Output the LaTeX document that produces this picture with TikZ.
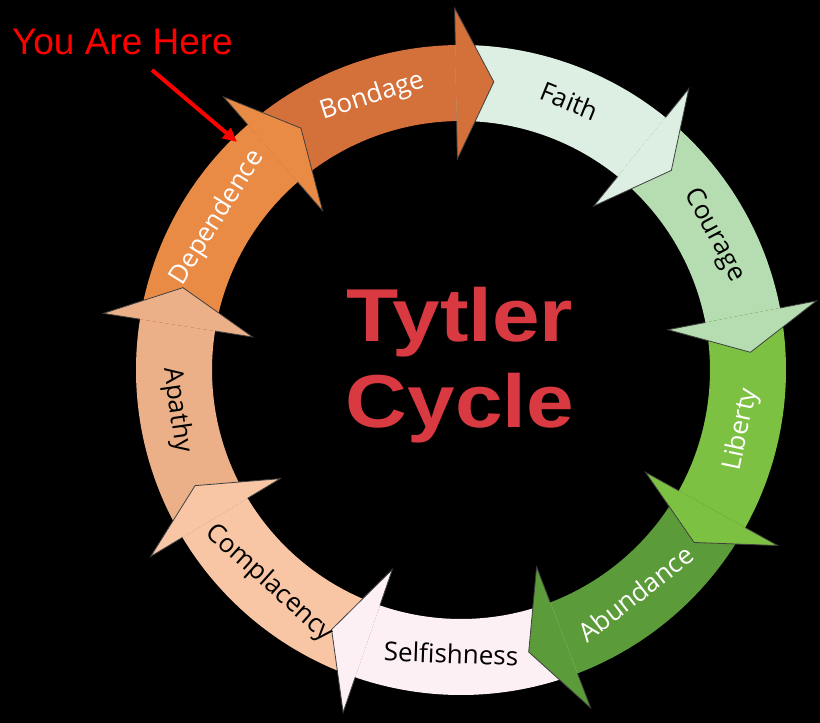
\documentclass[tikz,border=0pt]{standalone}
\usepackage{fontspec}
\usepackage{tikz}
\usetikzlibrary{arrows.meta}
\newfontfamily\labelfont{Open Sans}
\newfontfamily\notefont{Liberation Sans}
\definecolor{cBondage}{HTML}{D4703A}
\definecolor{cFaith}{HTML}{DDEFE3}
\definecolor{cCourage}{HTML}{B5DDB1}
\definecolor{cLiberty}{HTML}{7DC143}
\definecolor{cAbundance}{HTML}{5C9B39}
\definecolor{cSelfish}{HTML}{FCF0F4}
\definecolor{cComplacency}{HTML}{F8C6A4}
\definecolor{cApathy}{HTML}{ECB089}
\definecolor{cDependence}{HTML}{EA8B45}
\definecolor{titlered}{HTML}{D93A42}

\begin{document}
\begin{tikzpicture}[x=1pt, y=1pt,
    lbl/.style={font=\labelfont\fontsize{26}{26}\selectfont, inner sep=0pt, text height=18pt, text depth=5pt},
    headline/.style={draw=black!75, line width=0.8pt},
    pointer/.style={-{Triangle[length=14pt,width=13pt]}, line width=4pt, draw=red},
    titletext/.style={font=\notefont\bfseries\fontsize{75}{75}\selectfont, xscale=1.14, anchor=base, inner sep=0pt, text=titlered}
]
\fill[black] (-461,-353) rectangle (359,370);
%% ============================================================
%% RING: nine bodies of 40 degrees each (radius 249 to 325)
%% ============================================================
\fill[cBondage]     (131:325) arc[start angle=131, end angle=91, radius=325]   -- (91:249)   arc[start angle=91, end angle=131, radius=249]   -- cycle;
\fill[cFaith]       (91:325)  arc[start angle=91, end angle=51, radius=325]    -- (51:249)   arc[start angle=51, end angle=91, radius=249]    -- cycle;
\fill[cCourage]     (51:325)  arc[start angle=51, end angle=11, radius=325]    -- (11:249)   arc[start angle=11, end angle=51, radius=249]    -- cycle;
\fill[cLiberty]     (11:325)  arc[start angle=11, end angle=-29, radius=325]   -- (-29:249)  arc[start angle=-29, end angle=11, radius=249]   -- cycle;
\fill[cAbundance]   (-29:325) arc[start angle=-29, end angle=-69, radius=325]  -- (-69:249)  arc[start angle=-69, end angle=-29, radius=249]  -- cycle;
\fill[cSelfish]     (-69:325) arc[start angle=-69, end angle=-109, radius=325] -- (-109:249) arc[start angle=-109, end angle=-69, radius=249] -- cycle;
\fill[cComplacency] (-109:325) arc[start angle=-109, end angle=-149, radius=325] -- (-149:249) arc[start angle=-149, end angle=-109, radius=249] -- cycle;
\fill[cApathy]      (211:325) arc[start angle=211, end angle=171, radius=325]  -- (171:249)  arc[start angle=171, end angle=211, radius=249]  -- cycle;
\fill[cDependence]  (171:325) arc[start angle=171, end angle=131, radius=325]  -- (131:249)  arc[start angle=131, end angle=171, radius=249]  -- cycle;
%% ============================================================
%% HEADS: drawn last so each one sits on the next body
%% ============================================================
\fill[cBondage] (91:362) -- (83.5:290) -- (91:211) -- cycle;
\draw[headline] (91:325) -- (91:362) -- (83.5:290) -- (91:211) -- (91:249);
\fill[cFaith] (51:362) -- (43.5:290) -- (51:211) -- cycle;
\draw[headline] (51:325) -- (51:362) -- (43.5:290) -- (51:211) -- (51:249);
\fill[cCourage] (11:362) -- (3.5:290) -- (11:211) -- cycle;
\draw[headline] (11:325) -- (11:362) -- (3.5:290) -- (11:211) -- (11:249);
\fill[cLiberty] (-29:362) -- (-36.5:290) -- (-29:211) -- cycle;
\draw[headline] (-29:325) -- (-29:362) -- (-36.5:290) -- (-29:211) -- (-29:249);
\fill[cAbundance] (-69:362) -- (-76.5:290) -- (-69:211) -- cycle;
\draw[headline] (-69:325) -- (-69:362) -- (-76.5:290) -- (-69:211) -- (-69:249);
\fill[cSelfish] (-109:362) -- (-116.5:290) -- (-109:211) -- cycle;
\draw[headline] (-109:325) -- (-109:362) -- (-116.5:290) -- (-109:211) -- (-109:249);
\fill[cComplacency] (-149:362) -- (-156.5:290) -- (-149:211) -- cycle;
\draw[headline] (-149:325) -- (-149:362) -- (-156.5:290) -- (-149:211) -- (-149:249);
\fill[cApathy] (171:362) -- (163.5:290) -- (171:211) -- cycle;
\draw[headline] (171:325) -- (171:362) -- (163.5:290) -- (171:211) -- (171:249);
\fill[cDependence] (131:362) -- (123.5:290) -- (131:211) -- cycle;
\draw[headline] (131:325) -- (131:362) -- (123.5:290) -- (131:211) -- (131:249);
%% ============================================================
%% LABELS along the ring
%% ============================================================
\node[lbl, text=white, rotate=18] (bondage) at (108:287) {Bondage};
\node[lbl, text=black, rotate=-22] (faith) at (68:287) {Faith};
\node[lbl, text=black, rotate=-62] (courage) at (28:287) {Courage};
\node[lbl, text=white, rotate=78] (liberty) at (-12:287) {Liberty};
\node[lbl, text=white, rotate=38] (abundance) at (-52:287) {Abundance};
\node[lbl, text=black, rotate=-2] (selfishness) at (-92:287) {Selfishness};
\node[lbl, text=black, rotate=-42] (complacency) at (-132:287) {Complacency};
\node[lbl, text=black, rotate=-82] (apathy) at (-172:287) {Apathy};
\node[lbl, text=white, rotate=58] (dependence) at (148:287) {Dependence};
%% Title in the middle
\node[titletext] (tytler) at (-1,28) {Tytler};
\node[titletext] (cycle) at (-1,-57) {Cycle};
%% Pointer "You Are Here"
\node[font=\notefont\fontsize{37}{37}\selectfont, text=red, anchor=base, inner sep=0pt] (here) at (-338.5,315) {You Are Here};
\coordinate (herefoot) at (-309,300);
\coordinate (herespot) at (-224,228);
\draw[pointer] (herefoot) -- (herespot);
\end{tikzpicture}
\end{document}
